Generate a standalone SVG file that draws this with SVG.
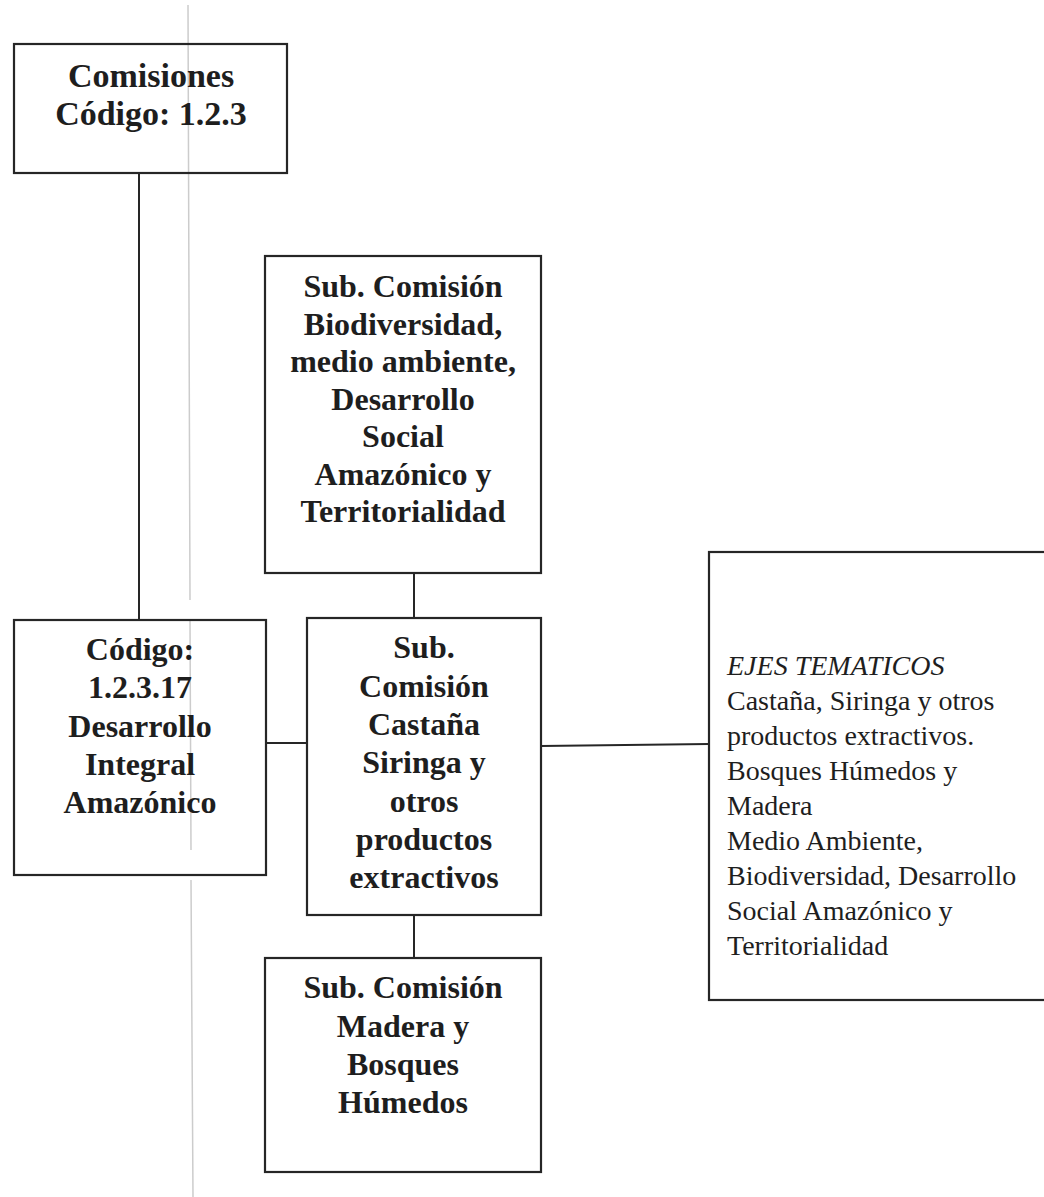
<svg xmlns="http://www.w3.org/2000/svg" width="1044" height="1197" viewBox="0 0 1044 1197">
<style>
.box{fill:none;stroke:#262626;stroke-width:2.2}
.conn line{stroke:#262626;stroke-width:2}
.b{font-family:"Liberation Serif","Times New Roman",serif;font-weight:bold;font-size:32px;fill:#1e1e1e;text-anchor:middle}
.big{font-size:34px}
.r{font-family:"Liberation Serif","Times New Roman",serif;font-size:28px;fill:#1e1e1e}
.i{font-style:italic}
.scan{stroke:#cccccc;stroke-width:1.5;fill:none}
</style>
<rect width="1044" height="1197" fill="#ffffff"/>
<path class="scan" d="M188 5 L190 600 M190 620 L191 850 M191 880 L193 1197"/>
<g class="conn">
<line x1="139" y1="173" x2="139" y2="620"/>
<line x1="414" y1="573" x2="414" y2="618"/>
<line x1="266" y1="743" x2="307" y2="743"/>
<line x1="541" y1="746" x2="709" y2="744"/>
<line x1="414" y1="915" x2="414" y2="958"/>
</g>
<g id="comisiones">
<rect class="box" x="14" y="44" width="273" height="129"/>
<text class="b big" x="151" y="87">Comisiones</text>
<text class="b big" x="151" y="125">Código: 1.2.3</text>
</g>
<g id="sub-biodiversidad">
<rect class="box" x="265" y="256" width="276" height="317"/>
<text class="b" x="403" y="297">Sub. Comisión</text>
<text class="b" x="403" y="335">Biodiversidad,</text>
<text class="b" x="403" y="372">medio ambiente,</text>
<text class="b" x="403" y="410">Desarrollo</text>
<text class="b" x="403" y="447">Social</text>
<text class="b" x="403" y="485">Amazónico y</text>
<text class="b" x="403" y="522">Territorialidad</text>
</g>
<g id="codigo-12317">
<rect class="box" x="14" y="620" width="252" height="255"/>
<text class="b" x="140" y="660">Código:</text>
<text class="b" x="140" y="698">1.2.3.17</text>
<text class="b" x="140" y="737">Desarrollo</text>
<text class="b" x="140" y="775">Integral</text>
<text class="b" x="140" y="813">Amazónico</text>
</g>
<g id="sub-castana">
<rect class="box" x="307" y="618" width="234" height="297"/>
<text class="b" x="424" y="658">Sub.</text>
<text class="b" x="424" y="697">Comisión</text>
<text class="b" x="424" y="735">Castaña</text>
<text class="b" x="424" y="773">Siringa y</text>
<text class="b" x="424" y="812">otros</text>
<text class="b" x="424" y="850">productos</text>
<text class="b" x="424" y="888">extractivos</text>
</g>
<g id="ejes-tematicos">
<rect class="box" x="709" y="552" width="345" height="448"/>
<text class="r i" x="727" y="675">EJES TEMATICOS</text>
<text class="r" x="727" y="710">Castaña, Siringa y otros</text>
<text class="r" x="727" y="745">productos extractivos.</text>
<text class="r" x="727" y="780">Bosques Húmedos y</text>
<text class="r" x="727" y="815">Madera</text>
<text class="r" x="727" y="850">Medio Ambiente,</text>
<text class="r" x="727" y="885">Biodiversidad, Desarrollo</text>
<text class="r" x="727" y="920">Social Amazónico y</text>
<text class="r" x="727" y="955">Territorialidad</text>
</g>
<g id="sub-madera">
<rect class="box" x="265" y="958" width="276" height="214"/>
<text class="b" x="403" y="998">Sub. Comisión</text>
<text class="b" x="403" y="1037">Madera y</text>
<text class="b" x="403" y="1075">Bosques</text>
<text class="b" x="403" y="1113">Húmedos</text>
</g>
</svg>
